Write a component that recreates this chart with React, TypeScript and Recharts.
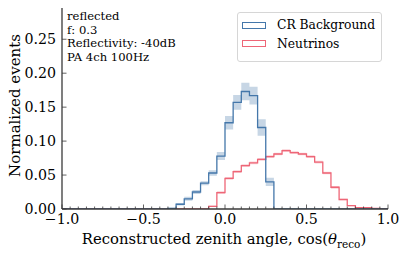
import { Area, ComposedChart, Line, XAxis, YAxis } from "recharts"

// 40 bins of width 0.05 between -1 and 1
const binEdges = Array.from({ length: 41 }, (_, i) => -1 + 0.05 * i)

const crBackground = [
  0, 0, 0, 0, 0, 0, 0, 0, 0, 0,
  0, 0, 0, 0.001, 0.007, 0.015, 0.025, 0.038, 0.053, 0.078,
  0.127, 0.157, 0.173, 0.167, 0.12, 0.04, 0, 0, 0, 0,
  0, 0, 0, 0, 0, 0, 0, 0, 0, 0,
]
const crError = [
  0, 0, 0, 0, 0, 0, 0, 0, 0, 0,
  0, 0, 0, 0.001, 0.002, 0.003, 0.003, 0.003, 0.004, 0.006,
  0.01, 0.011, 0.013, 0.013, 0.012, 0.006, 0, 0, 0, 0,
  0, 0, 0, 0, 0, 0, 0, 0, 0, 0,
]
const neutrinos = [
  0, 0, 0, 0, 0, 0, 0, 0, 0, 0,
  0, 0, 0, 0, 0, 0, 0, 0, 0.004, 0.024,
  0.045, 0.055, 0.064, 0.068, 0.073, 0.077, 0.081, 0.086, 0.083, 0.081,
  0.077, 0.069, 0.053, 0.032, 0.014, 0.005, 0.002, 0.002, 0.001, 0.0005,
]
const nuError = [
  0, 0, 0, 0, 0, 0, 0, 0, 0, 0,
  0, 0, 0, 0, 0, 0, 0, 0, 0.001, 0.002,
  0.002, 0.002, 0.002, 0.002, 0.002, 0.002, 0.002, 0.002, 0.002, 0.002,
  0.002, 0.002, 0.002, 0.002, 0.001, 0.001, 0.0005, 0.0005, 0.0005, 0.0005,
]

const yTicks = [0, 0.05, 0.1, 0.15, 0.2, 0.25]
const annotation = ["reflected", "f: 0.3", "Reflectivity: -40dB", "PA 4ch 100Hz"]
const legendItems = [
  { name: "CR Background", color: "#4477AA" },
  { name: "Neutrinos", color: "#EE6677" },
]

const data = binEdges.map((x, i) => {
  const j = Math.min(i, 39)
  return {
    x,
    cr: crBackground[j],
    crBand: [crBackground[j] - crError[j], crBackground[j] + crError[j]],
    nu: neutrinos[j],
    nuBand: [Math.max(0, neutrinos[j] - nuError[j]), neutrinos[j] + nuError[j]],
  }
})

const FONT = "DejaVu Serif"
const AXIS = "#3a3a3a"

const isMajor = (v: number) => Math.abs(v * 2 - Math.round(v * 2)) < 1e-6
const fmtX = (v: number) => (v < -1e-9 ? "\u2212" + Math.abs(v).toFixed(1) : Math.abs(v).toFixed(1))

function BottomTick(props: any) {
  const { x, y, payload } = props
  const major = isMajor(payload.value)
  return (
    <g>
      <line x1={x} x2={x} y1={y} y2={y - (major ? 4.5 : 2.5)} stroke={AXIS} strokeWidth={0.8} />
      {major && (
        <text x={x} y={y + 15} textAnchor="middle" fontFamily={FONT} fontSize={14.2} fill="#000">
          {fmtX(payload.value)}
        </text>
      )}
    </g>
  )
}

function TopTick(props: any) {
  const { x, y, payload } = props
  const major = isMajor(payload.value)
  return <line x1={x} x2={x} y1={y} y2={y + (major ? 4.5 : 2.5)} stroke={AXIS} strokeWidth={0.8} />
}

function LeftTick(props: any) {
  const { x, y, payload } = props
  return (
    <g>
      <line x1={x} x2={x + 4.5} y1={y} y2={y} stroke={AXIS} strokeWidth={0.8} />
      <text x={x - 6} y={y + 5} textAnchor="end" fontFamily={FONT} fontSize={14.2} fill="#000">
        {payload.value.toFixed(2)}
      </text>
    </g>
  )
}

function RightTick(props: any) {
  const { x, y } = props
  return <line x1={x} x2={x - 4.5} y1={y} y2={y} stroke={AXIS} strokeWidth={0.8} />
}

const xLabel = (props: any) => {
  const vb = props.viewBox
  return (
    <text x={vb.x + vb.width / 2 - 1} y={vb.y + 35} textAnchor="middle" fontFamily={FONT} fontSize={14.8} fill="#000">
      <tspan>Reconstructed zenith angle, cos(</tspan>
      <tspan fontStyle="italic">θ</tspan>
      <tspan dy={3.5} fontSize={10.5}>reco</tspan>
      <tspan dy={-3.5}>)</tspan>
    </text>
  )
}

const yLabel = (props: any) => {
  const vb = props.viewBox
  const cx = 15
  const cy = vb.y + vb.height / 2 - 3
  return (
    <text x={cx} y={cy} transform={`rotate(-90 ${cx} ${cy})`} textAnchor="middle" dominantBaseline="central"
      fontFamily={FONT} fontSize={15} fill="#000">
      Normalized events
    </text>
  )
}

export default function App() {
  return (
    <div style={{ position: "absolute", left: 0, top: 0, width: 407, height: 255, background: "#fff" }}>
      <ComposedChart width={407} height={255} data={data} margin={{ top: 8, right: 19, bottom: 0, left: 0 }}>
        <XAxis dataKey="x" type="number" domain={[-1, 1]} ticks={binEdges} interval={0} height={46}
          tickSize={0} tickMargin={0} tick={<BottomTick />} stroke={AXIS} strokeWidth={1.3} label={xLabel} />
        <XAxis xAxisId="top" orientation="top" dataKey="x" type="number" domain={[-1, 1]} ticks={binEdges}
          interval={0} height={0} tickSize={0} tickMargin={0} tick={<TopTick />} stroke={AXIS} strokeWidth={1.3} />
        <YAxis type="number" domain={[0, 0.296]} ticks={yTicks} interval={0} width={62} allowDataOverflow
          tickSize={0} tickMargin={0} tick={<LeftTick />} stroke={AXIS} strokeWidth={1.3} label={yLabel} />
        <YAxis yAxisId="right" orientation="right" type="number" domain={[0, 0.296]} ticks={yTicks} interval={0}
          width={0} allowDataOverflow tickSize={0} tickMargin={0} tick={<RightTick />} stroke={AXIS} strokeWidth={1.3} />
        <Area dataKey="nuBand" type="stepAfter" fill="#EE6677" fillOpacity={0.3} stroke="none" isAnimationActive={false} />
        <Area dataKey="crBand" type="stepAfter" fill="#4477AA" fillOpacity={0.3} stroke="none" isAnimationActive={false} />
        <Line dataKey="nu" type="stepAfter" stroke="#EE6677" strokeWidth={1.3} dot={false} isAnimationActive={false} />
        <Line dataKey="cr" type="stepAfter" stroke="#4477AA" strokeWidth={1.3} dot={false} isAnimationActive={false} />
      </ComposedChart>
      <div style={{ position: "absolute", left: 67, top: 10, fontFamily: FONT, fontSize: 11.6, lineHeight: "13.5px", color: "#000" }}>
        {annotation.map((t) => (
          <div key={t}>{t}</div>
        ))}
      </div>
      <div style={{ position: "absolute", left: 237, top: 12, width: 145, height: 50, boxSizing: "border-box",
        border: "1px solid #d6d6d6", borderRadius: 3, background: "rgba(255,255,255,0.8)", fontFamily: FONT, fontSize: 12.3 }}>
        {legendItems.map((it, k) => (
          <div key={it.name} style={{ position: "absolute", left: 4, top: 4 + k * 18.7, display: "flex", alignItems: "center" }}>
            <div style={{ width: 24, height: 7, border: `1.2px solid ${it.color}`, boxSizing: "border-box" }} />
            <span style={{ marginLeft: 11, lineHeight: "16px" }}>{it.name}</span>
          </div>
        ))}
      </div>
    </div>
  )
}
